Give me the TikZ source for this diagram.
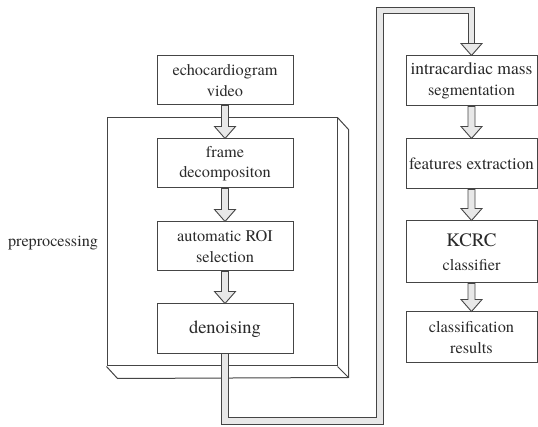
\documentclass[tikz,border=0pt]{standalone}
\usepackage{fontspec}
\setmainfont{texgyretermes}[Extension=.otf, UprightFont=*-regular, BoldFont=*-bold, ItalicFont=*-italic, BoldItalicFont=*-bolditalic]
\usetikzlibrary{calc}
\definecolor{lc}{HTML}{454545}
\definecolor{af}{HTML}{E8E8E8}
\definecolor{tc}{HTML}{2A2A2A}
\begin{document}
\begin{tikzpicture}[x=1pt,y=-1pt,
  every node/.style={text=tc},
  stage/.style={draw=lc, line width=1pt, fill=white, minimum width=136pt, minimum height=49pt,
    inner sep=1pt, align=center, font=\fontsize{16.3}{20.5}\selectfont},
  rstage/.style={stage, minimum width=131pt},
  box3d/.style={draw=lc, line width=1pt, line join=miter},
  blockarrow/.style={draw=lc, fill=af, line width=0.9pt, line join=miter,
    to path={let \p1=(\tikztostart), \p2=(\tikztotarget) in
      (\x1-3.5pt,\y1) -- (\x1-3.5pt,\y2+12pt) -- (\x1-10.5pt,\y2+12pt) -- (\x1,\y2)
      -- (\x1+10.5pt,\y2+12pt) -- (\x1+3.5pt,\y2+12pt) -- (\x1+3.5pt,\y1) -- cycle}},
  pipe/.style={draw=lc, line width=1pt, double=af, double distance=5.5pt, line join=miter},
  headpoly/.style={draw=lc, fill=af, line width=0.9pt, line join=miter}
]
\useasboundingbox (0,0) rectangle (538,427);
\fill[white] (0,0) rectangle (538,427);

% preprocessing 3D box
\node[box3d, minimum width=230pt, minimum height=248pt, inner sep=0pt] (prebox) at (222,242) {};
\draw[box3d] (prebox.north east) -- ++(11,12) coordinate (pbr) -- ++(0,248) coordinate (pbb)
  -- ($(prebox.south west)+(11,12)$) coordinate (pbl) -- (prebox.south west);
\draw[box3d] (prebox.south east) -- (pbb);
\node[font=\fontsize{16.2}{20}\selectfont] (prelabel) at (53,243) {preprocessing};

% pipe connector (drawn before boxes so the boxes cover its start)
\coordinate (pb) at (380,421);
\coordinate (pt) at (380,10.5);
\node[rstage, minimum height=50pt] (intra) at (471.5,81) {\fontsize{17.5}{20.5}\selectfont intracardiac mass\\segmentation};
\coordinate (pend) at ($(intra.north)+(0,-12)$);
\node[stage, minimum height=50pt] (denoise) at (225,329) {\fontsize{18.5}{22}\selectfont denoising};
\draw[pipe] (denoise.south) |- (pb) -- (pt) -| (pend);
\draw[headpoly] ($(intra.north)+(-10.5,-12)$) -- (intra.north) -- ($(intra.north)+(10.5,-12)$) -- cycle;

% left column
\node[stage] (echo) at (225,80.5) {echocardiogram\\video};
\node[stage] (frame) at (225,163.5) {frame\\decompositon};
\node[stage] (roi) at (225,246.5) {automatic ROI\\selection};
\node[stage, minimum height=50pt] (denoise2) at (225,329) {\fontsize{18.5}{22}\selectfont denoising};

% right column
\node[rstage, minimum height=50pt] (intra2) at (471.5,81) {\fontsize{17.5}{20.5}\selectfont intracardiac mass\\segmentation};
\node[rstage, minimum height=50pt] (feat) at (471.5,164) {\fontsize{17}{20}\selectfont features extraction};
\node[rstage, minimum height=62pt] (kcrc) at (471.5,252) {\raisebox{-4pt}{\fontsize{19}{20}\selectfont KCRC}\\[1pt]\raisebox{-6pt}{classifier}};
\node[rstage, minimum height=51pt] (res) at (471.5,337.5) {classification\\results};

% block arrows
\draw[blockarrow] (echo.south) to (frame.north);
\draw[blockarrow] (frame.south) to (roi.north);
\draw[blockarrow] (roi.south) to (denoise2.north);
\draw[blockarrow] (intra2.south) to (feat.north);
\draw[blockarrow] (feat.south) to (kcrc.north);
\draw[blockarrow] (kcrc.south) to (res.north);
\end{tikzpicture}
\end{document}
